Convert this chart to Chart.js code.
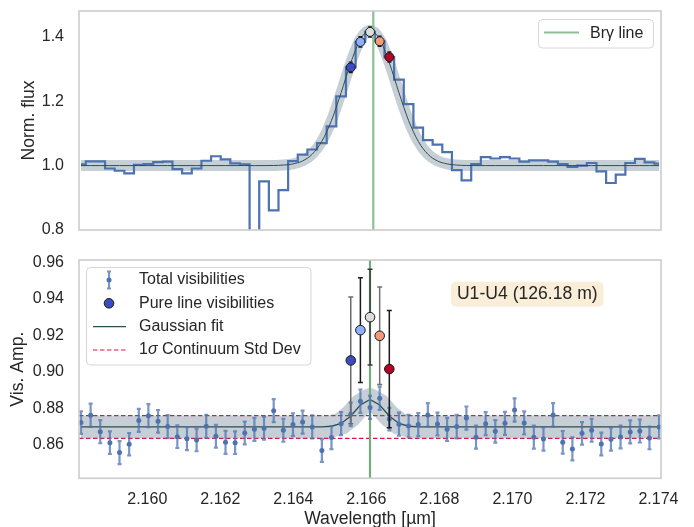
<!DOCTYPE html>
<html>
<head>
<meta charset="utf-8">
<script src="https://cdn.jsdelivr.net/npm/chart.js@4.4.1/dist/chart.umd.min.js"></script>
<style>
  html, body { margin: 0; padding: 0; background: #fff; }
  #wrap { position: relative; width: 694px; height: 527px; overflow: hidden; }
  canvas { position: absolute; left: 0; }
  #fluxChart { top: 0; }
  #visChart { top: 245px; }
</style>
</head>
<body>
<div id="wrap">
  <canvas id="fluxChart" width="694" height="245"></canvas>
  <canvas id="visChart" width="694" height="282"></canvas>
</div>
<script>
// Spectral channels [um]
const wavelengths = [
  2.158184, 2.158448, 2.158712, 2.158976, 2.159240, 2.159504, 2.159767, 2.160031, 2.160295, 2.160559,
  2.160823, 2.161087, 2.161351, 2.161615, 2.161879, 2.162143, 2.162406, 2.162670, 2.162934, 2.163198,
  2.163462, 2.163726, 2.163990, 2.164254, 2.164518, 2.164782, 2.165045, 2.165309, 2.165573, 2.165837,
  2.166101, 2.166365, 2.166629, 2.166893, 2.167157, 2.167421, 2.167684, 2.167948, 2.168212, 2.168476,
  2.168740, 2.169004, 2.169268, 2.169532, 2.169796, 2.170060, 2.170323, 2.170587, 2.170851, 2.171115,
  2.171379, 2.171643, 2.171907, 2.172171, 2.172435, 2.172699, 2.172962, 2.173226, 2.173490, 2.173754,
  2.174018
];

// Normalised flux per channel
const normFlux = [
  1.004, 1.013, 1.013, 0.991, 0.984, 0.976, 1.002, 1.005, 1.011, 1.012,
  0.989, 0.976, 0.991, 1.015, 1.029, 1.019, 1.007, 1.004, 0.700, 0.951,
  0.861, 0.924, 1.014, 1.034, 1.050, 1.070, 1.122, 1.215, 1.305, 1.384,
  1.415, 1.386, 1.337, 1.267, 1.191, 1.118, 1.079, 1.065, 1.042, 0.986,
  0.954, 1.005, 1.026, 1.022, 1.026, 1.022, 1.012, 1.016, 1.016, 1.012,
  1.005, 0.996, 1.000, 1.008, 0.982, 0.946, 0.972, 1.008, 1.021, 1.010,
  1.006
];

// Gaussian fit to the flux
const fluxFit = [
  1.000, 1.000, 1.000, 1.000, 1.000, 1.000, 1.000, 1.000, 1.000, 1.000,
  1.000, 1.000, 1.000, 1.000, 1.000, 1.000, 1.000, 1.000, 1.000, 1.000,
  1.0004, 1.0016, 1.0052, 1.0145, 1.0354, 1.0754, 1.1400, 1.2264, 1.3191, 1.3921,
  1.4200, 1.3921, 1.3191, 1.2264, 1.1400, 1.0754, 1.0354, 1.0145, 1.0052, 1.0016,
  1.0004, 1.000, 1.000, 1.000, 1.000, 1.000, 1.000, 1.000, 1.000, 1.000,
  1.000, 1.000, 1.000, 1.000, 1.000, 1.000, 1.000, 1.000, 1.000, 1.000,
  1.000
];

// Total visibility amplitudes and their errors
const visAmp = [
  0.8723, 0.8763, 0.8673, 0.8613, 0.8559, 0.8604, 0.8735, 0.8761, 0.8730, 0.8701,
  0.8646, 0.8635, 0.8628, 0.8703, 0.8648, 0.8615, 0.8613, 0.8666, 0.8686, 0.8692,
  0.8788, 0.8681, 0.8712, 0.8726, 0.8699, 0.8570, 0.8641, 0.8717, 0.8768, 0.8840,
  0.8806, 0.8856, 0.8742, 0.8714, 0.8704, 0.8712, 0.8765, 0.8715, 0.8686, 0.8701,
  0.8748, 0.8643, 0.8717, 0.8675, 0.8719, 0.8792, 0.8721, 0.8643, 0.8633, 0.8765,
  0.8615, 0.8579, 0.8664, 0.8681, 0.8606, 0.8632, 0.8644, 0.8672, 0.8677, 0.8639,
  0.8699
];
const visErr = [
  0.0062, 0.0064, 0.0063, 0.0062, 0.0063, 0.0061, 0.0063, 0.0063, 0.0062, 0.0063,
  0.0062, 0.0063, 0.0062, 0.0063, 0.0062, 0.0063, 0.0062, 0.0062, 0.0063, 0.0062,
  0.0063, 0.0063, 0.0062, 0.0063, 0.0063, 0.0062, 0.0063, 0.0063, 0.0064, 0.0064,
  0.0063, 0.0064, 0.0062, 0.0063, 0.0062, 0.0063, 0.0064, 0.0062, 0.0063, 0.0064,
  0.0063, 0.0063, 0.0063, 0.0062, 0.0063, 0.0064, 0.0063, 0.0063, 0.0063, 0.0064,
  0.0062, 0.0063, 0.0062, 0.0063, 0.0062, 0.0063, 0.0062, 0.0063, 0.0063, 0.0062,
  0.0063
];

// Gaussian fit to the visibilities
const visFit = [
  0.8699, 0.8699, 0.8699, 0.8699, 0.8699, 0.8699, 0.8699, 0.8699, 0.8699, 0.8699,
  0.8699, 0.8699, 0.8699, 0.8699, 0.8699, 0.8699, 0.8699, 0.8699, 0.8699, 0.8699,
  0.8699, 0.8699, 0.8699, 0.8699, 0.8699, 0.8699, 0.8703, 0.8718, 0.8759, 0.8819,
  0.8850, 0.8819, 0.8759, 0.8718, 0.8703, 0.8699, 0.8699, 0.8699, 0.8699, 0.8699,
  0.8699, 0.8699, 0.8699, 0.8699, 0.8699, 0.8699, 0.8699, 0.8699, 0.8699, 0.8699,
  0.8699, 0.8699, 0.8699, 0.8699, 0.8699, 0.8699, 0.8699, 0.8699, 0.8699, 0.8699,
  0.8699
];

// Pure line channels
const pureWave = [2.165573, 2.165837, 2.166101, 2.166365, 2.166629];
const pureFlux = [1.305, 1.384, 1.415, 1.386, 1.337];
const pureFluxErr = [0.016, 0.016, 0.016, 0.016, 0.016];
const pureVis = [0.9063, 0.9229, 0.9300, 0.9198, 0.9016];
const pureVisErr = [0.0347, 0.0287, 0.0262, 0.0267, 0.0321];
const pureColors = ['#3b4cc0', '#8db0fe', '#dddddd', '#f49a7b', '#b40426'];

const brGammaFlux = 2.16619;
const brGammaVis = 2.16610;
const contBounds = [0.8637, 0.8761];   // 1 sigma continuum band
const baselineLabel = 'U1-U4 (126.18 m)';

const waveRange = [2.15813, 2.17407];
const fluxRange = [0.8, 1.48];
const visRange = [0.8418, 0.9613];
const waveTicks = [2.160, 2.162, 2.164, 2.166, 2.168, 2.170, 2.172, 2.174];
const fluxTicks = [0.8, 1.0, 1.2, 1.4];
const visTicks = [0.86, 0.88, 0.90, 0.92, 0.94, 0.96];

const FONT = '"Liberation Sans", Arial, sans-serif';
const TEXT = '#262626';
Chart.defaults.font.family = FONT;
Chart.defaults.color = TEXT;

const pts = (xs, ys) => xs.map((x, i) => ({ x, y: ys[i] }));
const BAND = 'rgba(100,125,140,0.37)';
const FIT = '#2f4f4f';

function roundBox(ctx, x, y, w, h, r, fill, stroke) {
  ctx.beginPath();
  ctx.moveTo(x + r, y);
  ctx.arcTo(x + w, y, x + w, y + h, r);
  ctx.arcTo(x + w, y + h, x, y + h, r);
  ctx.arcTo(x, y + h, x, y, r);
  ctx.arcTo(x, y, x + w, y, r);
  ctx.closePath();
  ctx.fillStyle = fill;
  ctx.fill();
  if (stroke) { ctx.strokeStyle = stroke; ctx.lineWidth = 1; ctx.stroke(); }
}

// scales should not reserve room for overhanging tick labels
function noOverhang(s) {
  s.paddingTop = 0; s.paddingBottom = 0; s.paddingLeft = 0; s.paddingRight = 0;
}

// vertical error bars drawn just under their dataset's markers
const errorBars = {
  id: 'errorBars',
  beforeDatasetDraw(chart, args) {
    const ds = chart.data.datasets[args.index];
    if (!ds.errors) return;
    const { ctx, chartArea: a, scales } = chart;
    ctx.save();
    ctx.beginPath();
    ctx.rect(a.left, a.top, a.right - a.left, a.bottom - a.top);
    ctx.clip();
    ctx.lineWidth = ds.errorWidth;
    ds.data.forEach((p, i) => {
      const px = scales.x.getPixelForValue(p.x);
      const hi = scales.y.getPixelForValue(p.y + ds.errors[i]);
      const lo = scales.y.getPixelForValue(p.y - ds.errors[i]);
      const c = ds.capHalf;
      ctx.strokeStyle = Array.isArray(ds.errorColor) ? ds.errorColor[i] : ds.errorColor;
      ctx.beginPath();
      ctx.moveTo(px, hi); ctx.lineTo(px, lo);
      ctx.moveTo(px - c, hi); ctx.lineTo(px + c, hi);
      ctx.moveTo(px - c, lo); ctx.lineTo(px + c, lo);
      ctx.stroke();
    });
    ctx.restore();
  }
};

const frame = {
  id: 'frame',
  afterDatasetsDraw(chart) {
    const { ctx, chartArea: a } = chart;
    ctx.save();
    ctx.strokeStyle = '#cccccc';
    ctx.lineWidth = 1.6;
    ctx.strokeRect(a.left, a.top, a.right - a.left, a.bottom - a.top);
    ctx.restore();
  }
};

const fluxLegend = {
  id: 'fluxLegend',
  afterDraw(chart) {
    const ctx = chart.ctx;
    ctx.save();
    roundBox(ctx, 538.5, 19.5, 115, 28.5, 4, 'rgba(255,255,255,0.8)', '#d6d6d6');
    ctx.strokeStyle = '#8dbf95';
    ctx.lineWidth = 2.2;
    ctx.beginPath(); ctx.moveTo(544, 32.5); ctx.lineTo(579, 32.5); ctx.stroke();
    ctx.fillStyle = TEXT;
    ctx.font = '16px ' + FONT;
    ctx.textBaseline = 'middle';
    ctx.fillText('Br\u03b3 line', 590, 33.5);
    ctx.restore();
  }
};

const visLegend = {
  id: 'visLegend',
  afterDraw(chart) {
    const ctx = chart.ctx;
    ctx.save();
    roundBox(ctx, 86.5, 22.5, 224.5, 97.5, 4, 'rgba(255,255,255,0.8)', '#d6d6d6');
    // errorbar handle
    ctx.strokeStyle = 'rgba(76,114,176,0.75)';
    ctx.lineWidth = 2;
    ctx.beginPath();
    ctx.moveTo(109, 26.5); ctx.lineTo(109, 43.5);
    ctx.moveTo(107, 26.5); ctx.lineTo(111, 26.5);
    ctx.moveTo(107, 43.5); ctx.lineTo(111, 43.5);
    ctx.stroke();
    ctx.fillStyle = '#4c72b0';
    ctx.beginPath(); ctx.arc(109, 35, 2.5, 0, Math.PI * 2); ctx.fill();
    // pure line dot
    ctx.fillStyle = pureColors[0];
    ctx.strokeStyle = '#1a1a1a';
    ctx.lineWidth = 1;
    ctx.beginPath(); ctx.arc(109, 58.3, 4.8, 0, Math.PI * 2); ctx.fill(); ctx.stroke();
    // fit line
    ctx.strokeStyle = FIT;
    ctx.lineWidth = 1.3;
    ctx.beginPath(); ctx.moveTo(93, 81.7); ctx.lineTo(126, 81.7); ctx.stroke();
    // continuum dashed line
    ctx.strokeStyle = '#dc143c';
    ctx.lineWidth = 1.2;
    ctx.setLineDash([4.5, 2.5]);
    ctx.beginPath(); ctx.moveTo(93, 105); ctx.lineTo(126, 105); ctx.stroke();
    ctx.setLineDash([]);

    ctx.fillStyle = TEXT;
    ctx.textBaseline = 'middle';
    ctx.font = '16px ' + FONT;
    ctx.fillText('Total visibilities', 139, 35);
    ctx.fillText('Pure line visibilities', 139, 58.3);
    ctx.fillText('Gaussian fit', 139, 81.7);
    let x = 139;
    ctx.fillText('1', x, 105);
    x += ctx.measureText('1').width;
    ctx.font = 'italic 16px ' + FONT;
    ctx.fillText('\u03c3', x, 105);
    x += ctx.measureText('\u03c3').width;
    ctx.font = '16px ' + FONT;
    ctx.fillText(' Continuum Std Dev', x, 105);

    // baseline tag
    roundBox(ctx, 451, 36.7, 152.5, 25, 5, 'rgba(245,222,179,0.5)', null);
    ctx.fillStyle = TEXT;
    ctx.font = '17.6px ' + FONT;
    ctx.textAlign = 'center';
    ctx.fillText(baselineLabel, 527.3, 49.5);
    ctx.restore();
  }
};

function xAxis(show) {
  const axis = {
    type: 'linear', min: waveRange[0], max: waveRange[1], display: show,
    grid: { display: false, drawTicks: false }, border: { display: false },
    afterBuildTicks: s => { s.ticks = waveTicks.map(v => ({ value: v })); },
    ticks: { padding: 11.8, font: { size: 16 }, maxRotation: 0, autoSkip: false, callback: v => v.toFixed(3) },
    title: { display: true, text: 'Wavelength [\u00b5m]', font: { size: 17.6 }, padding: { top: 0, bottom: -3 } }
  };
  if (show) axis.afterFit = s => { s.height = 48.7; noOverhang(s); };
  return axis;
}

function yAxis(range, ticks, digits, label, titlePad) {
  return {
    min: range[0], max: range[1],
    grid: { display: false, drawTicks: false }, border: { display: false },
    afterBuildTicks: s => { s.ticks = ticks.map(v => ({ value: v })); },
    ticks: { padding: 15, font: { size: 16 }, callback: v => v.toFixed(digits) },
    title: { display: true, text: label, font: { size: 17.6 }, padding: { top: titlePad, bottom: 0 } },
    afterFit: s => { s.width = 79; noOverhang(s); }
  };
}

const baseOptions = {
  responsive: false,
  animation: false,
  events: [],
  plugins: { legend: { display: false }, tooltip: { enabled: false } }
};

// Top panel: normalised flux
new Chart(document.getElementById('fluxChart').getContext('2d'), {
  type: 'line',
  data: {
    datasets: [
      { data: pts(wavelengths, fluxFit), borderColor: BAND, borderWidth: 11, pointRadius: 0,
        cubicInterpolationMode: 'monotone', borderJoinStyle: 'round', clip: 0, order: 6 },
      { data: pts(wavelengths, normFlux), borderColor: '#4c72b0', borderWidth: 2.2, pointRadius: 0,
        stepped: 'middle', clip: 0, order: 5 },
      { data: pts(wavelengths, fluxFit), borderColor: FIT, borderWidth: 1, pointRadius: 0,
        cubicInterpolationMode: 'monotone', clip: 0, order: 4 },
      { data: [{ x: brGammaFlux, y: fluxRange[0] }, { x: brGammaFlux, y: fluxRange[1] }],
        borderColor: '#8dbf95', borderWidth: 2.2, pointRadius: 0, clip: 0, order: 3 },
      { data: pts(pureWave, pureFlux), showLine: false, pointRadius: 4.5, pointBorderWidth: 1,
        pointBackgroundColor: pureColors, pointBorderColor: '#1a1a1a',
        errors: pureFluxErr, errorColor: '#1a1a1a', errorWidth: 1.3, capHalf: 2, order: 1 }
    ]
  },
  options: {
    ...baseOptions,
    layout: { padding: { left: 0, right: 33, top: 11, bottom: 15 } },
    scales: { x: xAxis(false), y: yAxis(fluxRange, fluxTicks, 1, 'Norm. flux', 19) }
  },
  plugins: [errorBars, frame, fluxLegend]
});

// Bottom panel: visibility amplitudes
new Chart(document.getElementById('visChart').getContext('2d'), {
  type: 'line',
  data: {
    datasets: [
      { data: [{ x: waveRange[0], y: contBounds[0] }, { x: waveRange[1], y: contBounds[0] }],
        borderColor: '#dc143c', borderWidth: 1.2, borderDash: [4.5, 2.5], pointRadius: 0, clip: 0, order: 8 },
      { data: [{ x: waveRange[0], y: contBounds[1] }, { x: waveRange[1], y: contBounds[1] }],
        borderColor: '#dc143c', borderWidth: 1.2, borderDash: [4.5, 2.5], pointRadius: 0, clip: 0, order: 7 },
      { data: pts(wavelengths, visFit), borderColor: BAND, borderWidth: 22.5, pointRadius: 0,
        borderJoinStyle: 'round', clip: 0, order: 6 },
      { data: pts(wavelengths, visFit), borderColor: FIT, borderWidth: 1.3, pointRadius: 0, clip: 0, order: 5 },
      { data: [{ x: brGammaVis, y: visRange[0] }, { x: brGammaVis, y: visRange[1] }],
        borderColor: '#74ab80', borderWidth: 2.2, pointRadius: 0, clip: 0, order: 4 },
      { data: pts(wavelengths, visAmp), showLine: false, pointRadius: 2.5, pointBorderWidth: 0,
        pointBackgroundColor: '#4c72b0',
        errors: visErr, errorColor: 'rgba(76,114,176,0.75)', errorWidth: 2.2, capHalf: 2, order: 3 },
      { data: pts(pureWave, pureVis), showLine: false, pointRadius: 4.8, pointBorderWidth: 1,
        pointBackgroundColor: pureColors, pointBorderColor: '#1a1a1a',
        errors: pureVisErr, errorColor: ['#6b6b6b', '#1a1a1a', '#3a3a3a', '#707070', '#1a1a1a'],
        errorWidth: 1.5, capHalf: 2.5, order: 1 }
    ]
  },
  options: {
    ...baseOptions,
    layout: { padding: { left: 0, right: 33, top: 15, bottom: 0 } },
    scales: { x: xAxis(true), y: yAxis(visRange, visTicks, 2, 'Vis. Amp.', 7.7) }
  },
  plugins: [errorBars, frame, visLegend]
});
</script>
</body>
</html>
